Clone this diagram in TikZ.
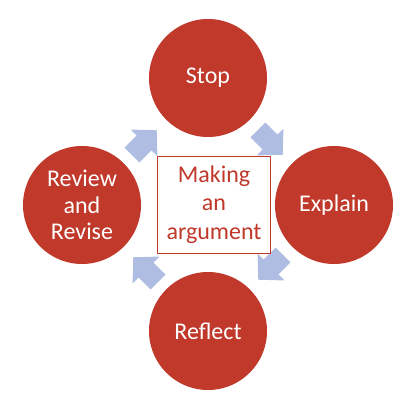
\documentclass[tikz,border=0pt]{standalone}
\usepackage{fontspec}
\setmainfont{Carlito}
\definecolor{cred}{RGB}{192,57,43}
\definecolor{cblue}{RGB}{174,189,225}
\begin{document}
\begin{tikzpicture}[x=1pt,y=1pt,
  stage/.style={circle,fill=cred,minimum size=118pt,inner sep=0pt,text=white,
    font=\fontsize{24}{26.5}\selectfont,align=center},
  centerbox/.style={draw=cred,line width=0.9pt,fill=white,minimum width=113pt,minimum height=97pt,
    inner sep=0pt,text=cred,font=\fontsize{24}{28.5}\selectfont,align=center},
  blockarrow/.style={fill=cblue,draw=none}]
\useasboundingbox (0,0) rectangle (409,-406);
\newcommand{\blockarr}[2]{%
  \fill[blockarrow,shift={(#1)},rotate=#2] (-17,-10.5) -- (0,-10.5) -- (0,-19) -- (18,0) -- (0,19) -- (0,10.5) -- (-17,10.5) -- cycle;}
\coordinate (a1) at (144,-143);
\coordinate (a2) at (270,-142);
\coordinate (a3) at (271,-267);
\coordinate (a4) at (146,-270);
\blockarr{a1}{45}
\blockarr{a2}{-45}
\blockarr{a3}{-135}
\blockarr{a4}{135}
\node[centerbox] (c) at (214,-204.5) {Making\\an\\argument};
\node[stage] (stop) at (208,-78) {Stop};
\node[stage] (explain) at (334,-205) {Explain};
\node[stage] (reflect) at (208,-331) {Reflect};
\node[stage] (review) at (82,-205) {Review\\and\\Revise};
\end{tikzpicture}
\end{document}
